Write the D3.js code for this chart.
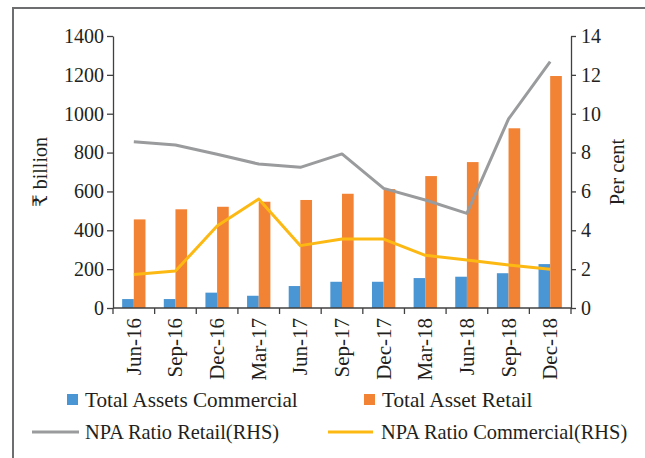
<!DOCTYPE html>
<html>
<head>
<meta charset="utf-8">
<script src="https://cdn.jsdelivr.net/npm/d3@7.9.0/dist/d3.min.js"></script>
<style>
  body { margin: 0; background: #fff; }
  svg text { font-family: "Liberation Serif", "DejaVu Serif", serif; fill: #231f20; }
</style>
</head>
<body>
<svg id="chart" width="645" height="458"></svg>
<script>
const quarters = ['Jun-16', 'Sep-16', 'Dec-16', 'Mar-17', 'Jun-17', 'Sep-17', 'Dec-17', 'Mar-18', 'Jun-18', 'Sep-18', 'Dec-18'];
const assetsCommercial = [46, 46, 79, 63, 113, 135, 135, 154, 161, 179, 226];
const assetsRetail = [456, 508, 521, 547, 556, 588, 612, 679, 751, 925, 1194];
const npaRetail = [8.56, 8.39, 7.91, 7.41, 7.24, 7.93, 6.16, 5.56, 4.87, 9.73, 12.68];
const npaCommercial = [1.73, 1.9, 4.22, 5.61, 3.21, 3.55, 3.55, 2.71, 2.47, 2.21, 1.99];
const leftTicks = [0, 200, 400, 600, 800, 1000, 1200, 1400];
const rightTicks = [0, 2, 4, 6, 8, 10, 12, 14];

const colors = { commercial: '#4a95d3', retail: '#f28234', npaRetail: '#999b9c', npaCommercial: '#fdb913' };

const svg = d3.select('#chart');
const plotLeft = 113, plotRight = 571, plotTop = 36, plotBottom = 308;

// frame
svg.append('path')
  .attr('d', 'M13,458 L13,8 L645,8')
  .attr('fill', 'none')
  .attr('stroke', '#6d6e70')
  .attr('stroke-width', 2);

const x = d3.scaleBand().domain(quarters).range([plotLeft, plotRight]);
const yL = d3.scaleLinear().domain([0, 1400]).range([plotBottom, plotTop]);
const yR = d3.scaleLinear().domain([0, 14]).range([plotBottom, plotTop]);
const bw = x.bandwidth() * 0.28;
const cx = d => x(d) + x.bandwidth() / 2;

// bars
svg.append('g').selectAll('rect')
  .data(quarters)
  .join('rect')
  .attr('x', d => cx(d) - bw)
  .attr('width', bw)
  .attr('y', (d, i) => yL(assetsCommercial[i]))
  .attr('height', (d, i) => plotBottom - yL(assetsCommercial[i]))
  .attr('fill', colors.commercial);

svg.append('g').selectAll('rect')
  .data(quarters)
  .join('rect')
  .attr('x', d => cx(d))
  .attr('width', bw)
  .attr('y', (d, i) => yL(assetsRetail[i]))
  .attr('height', (d, i) => plotBottom - yL(assetsRetail[i]))
  .attr('fill', colors.retail);

// lines
const line = (scale, vals) => d3.line()
  .x((d, i) => cx(quarters[i]))
  .y(d => scale(d))(vals);

svg.append('path')
  .attr('d', line(yR, npaRetail))
  .attr('fill', 'none')
  .attr('stroke', colors.npaRetail)
  .attr('stroke-width', 3)
  .attr('stroke-linejoin', 'round');

svg.append('path')
  .attr('d', line(yR, npaCommercial))
  .attr('fill', 'none')
  .attr('stroke', colors.npaCommercial)
  .attr('stroke-width', 3)
  .attr('stroke-linejoin', 'round');

// axes
const styleAxis = g => {
  g.selectAll('.domain').attr('stroke', '#404041').attr('stroke-width', 1.3);
  g.selectAll('.tick line').attr('stroke', '#404041').attr('stroke-width', 1.3);
  g.selectAll('text').attr('font-size', 20).attr('font-family', '"Liberation Serif", serif').attr('fill', '#231f20');
};

svg.append('g')
  .attr('transform', `translate(${plotLeft},0)`)
  .call(d3.axisLeft(yL).tickValues(leftTicks).tickFormat(d3.format('d')).tickSize(6).tickSizeOuter(0).tickPadding(3))
  .call(styleAxis);

svg.append('g')
  .attr('transform', `translate(${plotRight},0)`)
  .call(d3.axisRight(yR).tickValues(rightTicks).tickFormat(d3.format('d')).tickSize(5).tickSizeOuter(0).tickPadding(5))
  .call(styleAxis);

// x axis with ticks at band boundaries
const xg = svg.append('g').attr('transform', `translate(0,${plotBottom})`);
xg.append('line').attr('x1', plotLeft).attr('x2', plotRight).attr('stroke', '#404041').attr('stroke-width', 1.3);
xg.selectAll('line.t')
  .data(quarters.concat(['end']))
  .join('line')
  .attr('class', 't')
  .attr('x1', (d, i) => plotLeft + i * x.step())
  .attr('x2', (d, i) => plotLeft + i * x.step())
  .attr('y1', 0).attr('y2', 6)
  .attr('stroke', '#404041').attr('stroke-width', 1.3);
xg.selectAll('text')
  .data(quarters)
  .join('text')
  .attr('transform', d => `translate(${cx(d) + 7},10) rotate(-90)`)
  .attr('text-anchor', 'end')
  .attr('font-size', 21)
  .text(d => d);

// axis titles
svg.append('text')
  .attr('transform', 'translate(47,172) rotate(-90)')
  .attr('text-anchor', 'middle')
  .attr('font-size', 20)
  .text('₹ billion');

svg.append('text')
  .attr('transform', 'translate(624,172) rotate(-90)')
  .attr('text-anchor', 'middle')
  .attr('font-size', 20.5)
  .text('Per cent');

// legend
const legend = svg.append('g');
const boxItems = [
  { label: 'Total Assets Commercial', color: colors.commercial, x: 67 },
  { label: 'Total Asset Retail', color: colors.retail, x: 364 }
];
boxItems.forEach(d => {
  legend.append('rect').attr('x', d.x).attr('y', 394).attr('width', 11).attr('height', 11).attr('fill', d.color);
  legend.append('text').attr('x', d.x + 18).attr('y', 407).attr('font-size', 21.2).text(d.label);
});
const lineItems = [
  { label: 'NPA Ratio Retail(RHS)', color: colors.npaRetail, x1: 32, x2: 79, tx: 85 },
  { label: 'NPA Ratio Commercial(RHS)', color: colors.npaCommercial, x1: 328, x2: 373, tx: 381 }
];
lineItems.forEach(d => {
  legend.append('line').attr('x1', d.x1).attr('x2', d.x2).attr('y1', 432).attr('y2', 432)
    .attr('stroke', d.color).attr('stroke-width', 3);
  legend.append('text').attr('x', d.tx).attr('y', 439).attr('font-size', 20.4).text(d.label);
});
</script>
</body>
</html>
